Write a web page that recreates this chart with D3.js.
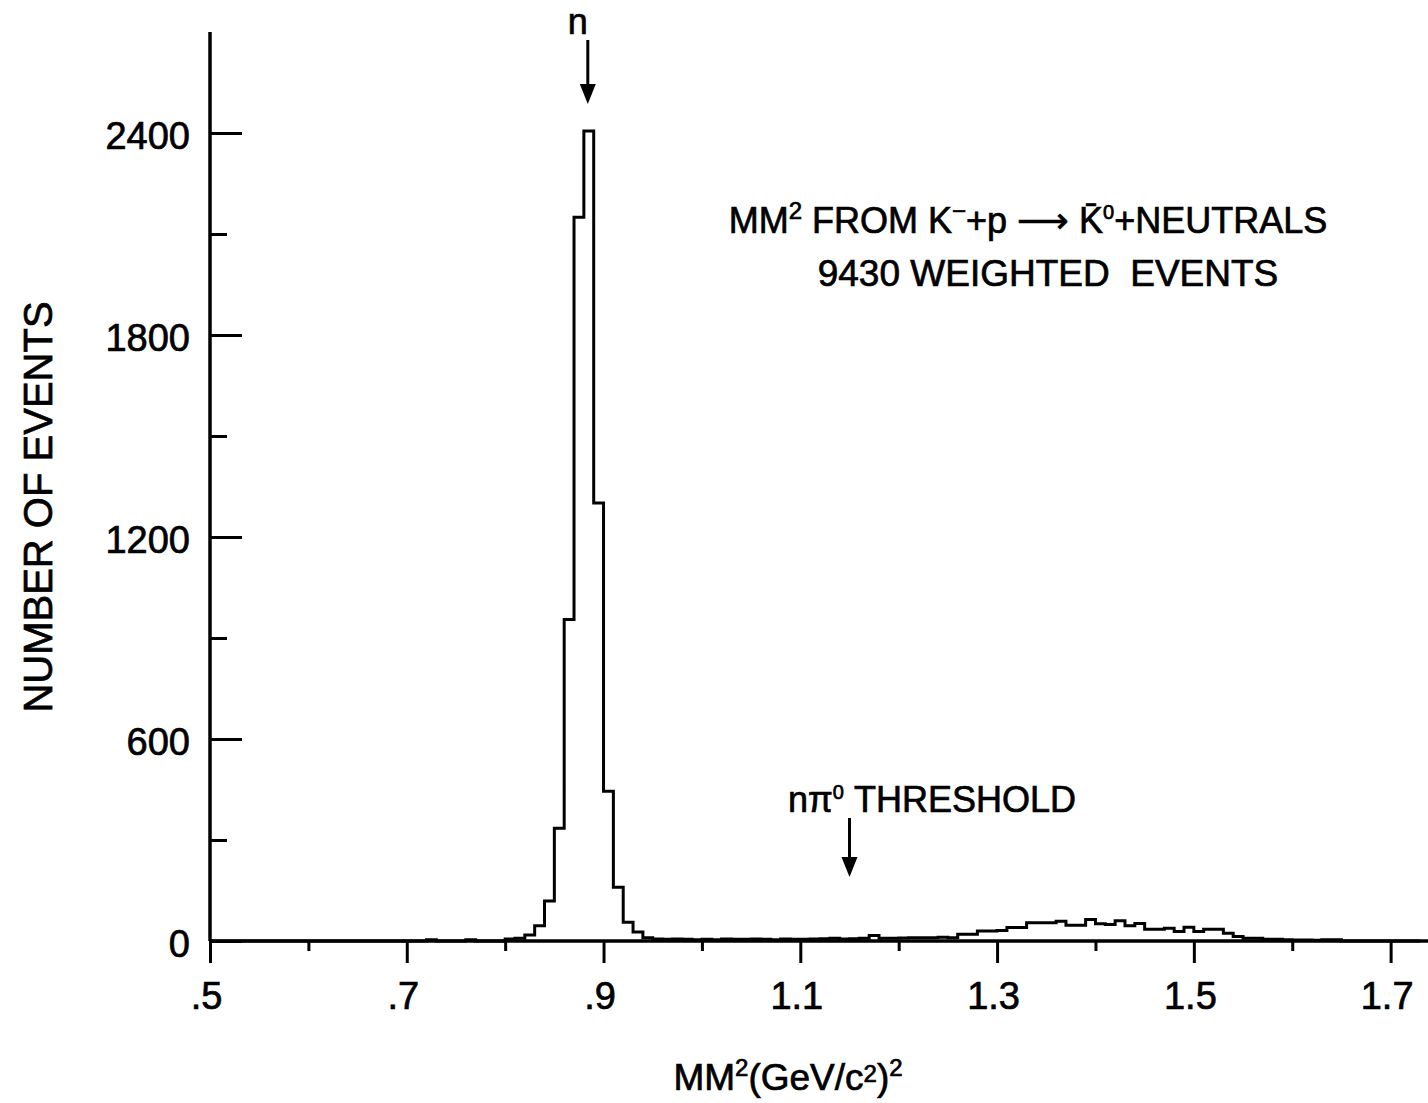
<!DOCTYPE html>
<html>
<head>
<meta charset="utf-8">
<script src="https://cdn.jsdelivr.net/npm/d3@7"></script>
<style>
  body { margin: 0; background: #fff; }
  text { font-family: "Liberation Sans", Arial, sans-serif; fill: #000; stroke: #000; stroke-width: 0.7px; }
</style>
</head>
<body>
<div id="chart"></div>
<script>
// histogram bins, 0.01 (GeV/c^2)^2 wide, starting at 0.50
var binStart = 0.50,
    binWidth = 0.01;
var counts = [
  // 0.50 - 0.79
  0, 0, 0, 0, 0, 0, 0, 0, 0, 0,
  0, 0, 0, 0, 0, 0, 0, 0, 0, 0,
  0, 0, 4, 0, 0, 0, 4, 0, 0, 0,
  // 0.80 - 0.99
  6, 8, 18, 45, 119, 335, 955, 2150, 2406, 1301,
  445, 160, 56, 27, 10, 6, 5, 6, 5, 4,
  // 1.00 - 1.19
  5, 4, 6, 5, 5, 6, 5, 4, 6, 5,
  5, 6, 7, 8, 6, 7, 8, 16, 8, 8,
  // 1.20 - 1.39
  9, 10, 10, 10, 11, 10, 20, 20, 30, 30,
  31, 40, 40, 54, 54, 54, 59, 47, 47, 64,
  // 1.40 - 1.59
  51, 49, 60, 45, 52, 35, 35, 38, 28, 41,
  28, 35, 35, 23, 13, 8, 8, 5, 5, 4,
  // 1.60 - 1.72
  3, 3, 2, 4, 4, 0, 0, 0, 0, 0, 0, 0, 0
];

var xMajorTicks = [0.5, 0.7, 0.9, 1.1, 1.3, 1.5, 1.7],
    xMinorTicks = [0.6, 0.8, 1.0, 1.2, 1.4, 1.6],
    yMajorTicks = [0, 600, 1200, 1800, 2400],
    yMinorTicks = [300, 900, 1500, 2100];

var nMass2 = 0.884,        // neutron arrow
    thresholdMM2 = 1.15;   // n pi0 threshold arrow

var width = 1428, height = 1103,
    margin = { top: 32, right: 0, bottom: 162, left: 210 };

var svg = d3.select("#chart").append("svg")
    .attr("width", width)
    .attr("height", height);

var x = d3.scaleLinear()
    .domain([0.5, 1.738])
    .range([margin.left, width - margin.right]);
var y = d3.scaleLinear()
    .domain([0, 2700])
    .range([height - margin.bottom, margin.top]);

var fmtX = function(d) {
    var s = d3.format(".1f")(d);
    return d < 1 ? s.replace(/^0/, "") : s;
};

// x axis: minor ticks, then major ticks with labels
svg.append("g")
    .attr("transform", "translate(0," + y(0) + ")")
    .call(d3.axisBottom(x).tickValues(xMinorTicks).tickSize(10).tickFormat(""))
    .call(g => g.select(".domain").remove());
svg.append("g")
    .attr("transform", "translate(0," + y(0) + ")")
    .call(d3.axisBottom(x).tickValues(xMajorTicks).tickSize(22).tickPadding(19).tickFormat(fmtX))
    .call(g => g.select(".domain").remove())
    .call(g => g.selectAll("text").attr("font-size", 38).attr("dx", -4));

// y axis: ticks point inward
svg.append("g")
    .attr("transform", "translate(" + x(0.5) + ",0)")
    .call(d3.axisLeft(y).tickValues(yMinorTicks).tickSizeInner(-17).tickSizeOuter(0).tickFormat(""))
    .call(g => g.select(".domain").remove());
svg.append("g")
    .attr("transform", "translate(" + x(0.5) + ",0)")
    .call(d3.axisLeft(y).tickValues(yMajorTicks).tickSizeInner(-32).tickSizeOuter(0).tickPadding(20).tickFormat(d3.format("d")))
    .call(g => g.select(".domain").remove())
    .call(g => g.selectAll("text").attr("font-size", 38).attr("dy", "0.4em"));

svg.selectAll(".tick line").attr("stroke", "#000").attr("stroke-width", 3);
svg.selectAll(".tick text").attr("fill", "#000");

// axis lines
svg.append("line")
    .attr("x1", x(0.5)).attr("x2", x(0.5))
    .attr("y1", y(0)).attr("y2", y(2700))
    .attr("stroke", "#000").attr("stroke-width", 3.5);
svg.append("line")
    .attr("x1", x(0.5)).attr("x2", x(1.738))
    .attr("y1", y(0)).attr("y2", y(0))
    .attr("stroke", "#000").attr("stroke-width", 3.5);

// histogram outline
var pts = counts.map((c, i) => [binStart + i * binWidth, c]);
pts.push([binStart + counts.length * binWidth, counts[counts.length - 1]]);
var step = d3.line()
    .x(d => x(d[0]))
    .y(d => y(d[1]))
    .curve(d3.curveStepAfter);
svg.append("path")
    .datum(pts)
    .attr("d", step)
    .attr("fill", "none")
    .attr("stroke", "#000")
    .attr("stroke-width", 3)
    .attr("stroke-linejoin", "miter");

// arrows
function arrow(xv, y1, y2) {
    var xp = x(xv);
    svg.append("line")
        .attr("x1", xp).attr("x2", xp)
        .attr("y1", y1).attr("y2", y2 - 8)
        .attr("stroke", "#000").attr("stroke-width", 3);
    svg.append("path")
        .attr("d", "M" + (xp - 8) + "," + (y2 - 20) + "L" + xp + "," + y2 + "L" + (xp + 8) + "," + (y2 - 20) + "Z")
        .attr("fill", "#000");
}
arrow(nMass2, 40, 104);
arrow(thresholdMM2, 818, 877);

svg.append("text")
    .attr("x", x(nMass2) - 10).attr("y", 34)
    .attr("text-anchor", "middle")
    .attr("font-size", 36)
    .text("n");

var thr = svg.append("text")
    .attr("x", 788).attr("y", 812)
    .attr("font-size", 36);
thr.append("tspan").text("nπ");
thr.append("tspan").attr("font-size", 20).attr("dy", -13).text("0");
thr.append("tspan").attr("dy", 13).text(" THRESHOLD");

// title
var t1 = svg.append("text")
    .attr("x", 1028).attr("y", 233)
    .attr("text-anchor", "middle")
    .attr("font-size", 36);
t1.append("tspan").text("MM");
t1.append("tspan").attr("font-size", 24).attr("dy", -14).text("2");
t1.append("tspan").attr("dy", 14).text(" FROM K");
t1.append("tspan").attr("font-size", 24).attr("dy", -14).text("−");
t1.append("tspan").attr("dy", 14).text("+p ⟶ K\u0304");
t1.append("tspan").attr("font-size", 20).attr("dy", -14).text("0");
t1.append("tspan").attr("dy", 14).text("+NEUTRALS");

svg.append("text")
    .attr("x", 1048).attr("y", 286)
    .attr("text-anchor", "middle")
    .attr("font-size", 37)
    .attr("xml:space", "preserve")
    .style("white-space", "pre")
    .text("9430 WEIGHTED  EVENTS");

// axis titles
svg.append("text")
    .attr("transform", "translate(52,507) rotate(-90)")
    .attr("text-anchor", "middle")
    .attr("font-size", 40)
    .text("NUMBER OF EVENTS");

var xl = svg.append("text")
    .attr("x", 788).attr("y", 1090)
    .attr("text-anchor", "middle")
    .attr("font-size", 37);
xl.append("tspan").text("MM");
xl.append("tspan").attr("font-size", 24).attr("dy", -14).text("2");
xl.append("tspan").attr("dy", 14).text("(GeV/c");
xl.append("tspan").attr("font-size", 24).attr("dy", -8).text("2");
xl.append("tspan").attr("dy", 8).text(")");
xl.append("tspan").attr("font-size", 24).attr("dy", -14).text("2");
</script>
</body>
</html>
